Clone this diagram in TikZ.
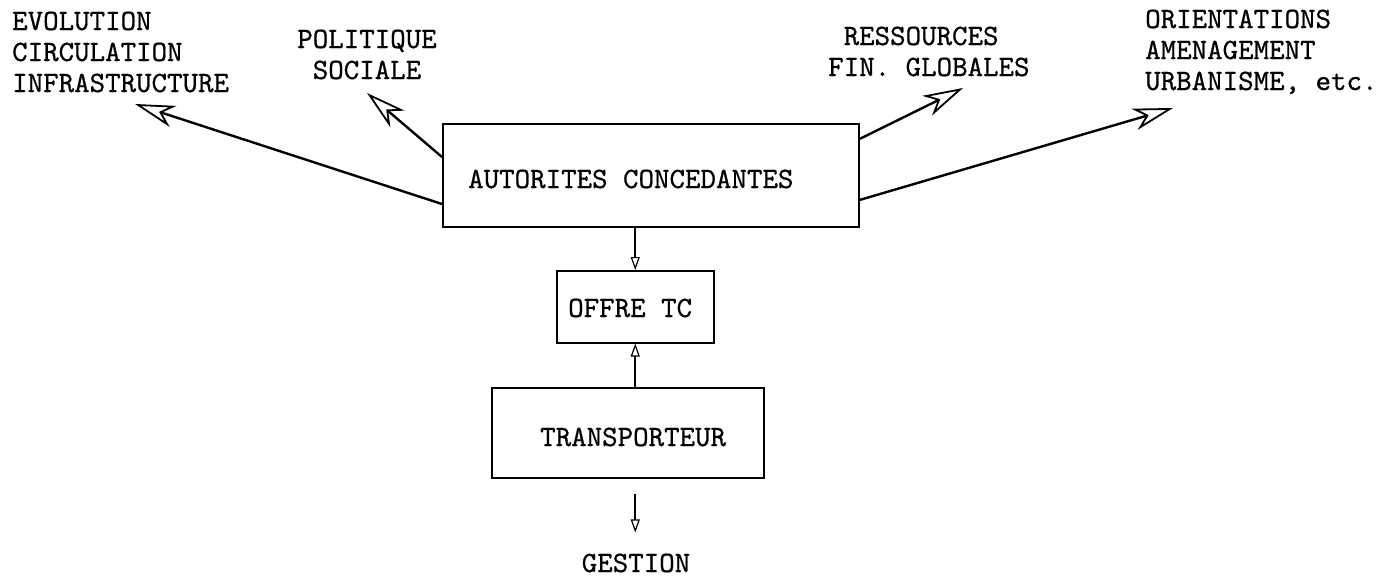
\documentclass[tikz,border=0pt]{standalone}
\usepackage{fontspec}
\newfontfamily\twfont[FakeBold=0.7]{lmmono10-regular.otf}
\usetikzlibrary{arrows.meta,calc}
\begin{document}
\begin{tikzpicture}[x=1pt,y=-1pt,
  lbl/.style={font=\twfont\fontsize{29.5}{31}\selectfont, inner sep=0pt},
  boxn/.style={draw, line width=1.5pt, inner sep=0pt, anchor=north west},
  bigarrow/.style={line width=2.4pt, -{Stealth[open,length=40pt,width=22pt,inset=12pt,line width=1.8pt]}},
  smallarrow/.style={line width=1.6pt, -{Triangle[open,length=13pt,width=9pt,line width=1.2pt]}}]
\useasboundingbox (0,0) rectangle (1391,576);
% boxes
\node[boxn, minimum width=416pt, minimum height=103pt] (A) at (442,123) {};
\node[boxn, minimum width=157pt, minimum height=72pt] (O) at (556,270) {};
\node[boxn, minimum width=272pt, minimum height=90pt] (T) at (491,387) {};
% box texts
\node[lbl, anchor=base west] (At) at (468,188) {AUTORITES CONCEDANTES};
\node[lbl, anchor=base west] (Ot) at (568,317) {OFFRE TC};
\node[lbl, anchor=base west] (Tt) at (540,446) {TRANSPORTEUR};
% outer labels
\node[lbl, anchor=base west] (L1) at (12,30) {\begin{tabular}[t]{@{}l@{}}EVOLUTION\\CIRCULATION\\INFRASTRUCTURE\end{tabular}};
\node[lbl, anchor=base] (L2) at (367,48) {\begin{tabular}[t]{@{}c@{}}POLITIQUE\\SOCIALE\end{tabular}};
\node[lbl, anchor=base west] (L3) at (828,45) {\begin{tabular}[t]{@{}l@{}}\ RESSOURCES\\FIN. GLOBALES\end{tabular}};
\node[lbl, anchor=base west] (L4) at (1145,28) {\begin{tabular}[t]{@{}l@{}}ORIENTATIONS\\AMENAGEMENT\\URBANISME, etc.\end{tabular}};
\node[lbl, anchor=base] (G) at (636,572) {GESTION};
% arrow tips
\coordinate (t1) at (135,104);
\coordinate (t2) at (367,93);
\coordinate (t3) at (963,88);
\coordinate (t4) at (1173,108);
\draw[bigarrow] ($(A.north west)+(0,81)$) -- (t1);
\draw[bigarrow] ($(A.north west)+(0,34)$) -- (t2);
\draw[bigarrow] ($(A.north east)+(0,16)$) -- (t3);
\draw[bigarrow] ($(A.north east)+(0,77)$) -- (t4);
% vertical arrows
\draw[smallarrow] (A.south -| O.north) -- (O.north);
\draw[smallarrow] (T.north -| O.south) -- (O.south);
\draw[smallarrow] ($(T.south -| O.south)+(0,15)$) -- ($(G.north -| O.south)+(0,-21)$);
\end{tikzpicture}
\end{document}
